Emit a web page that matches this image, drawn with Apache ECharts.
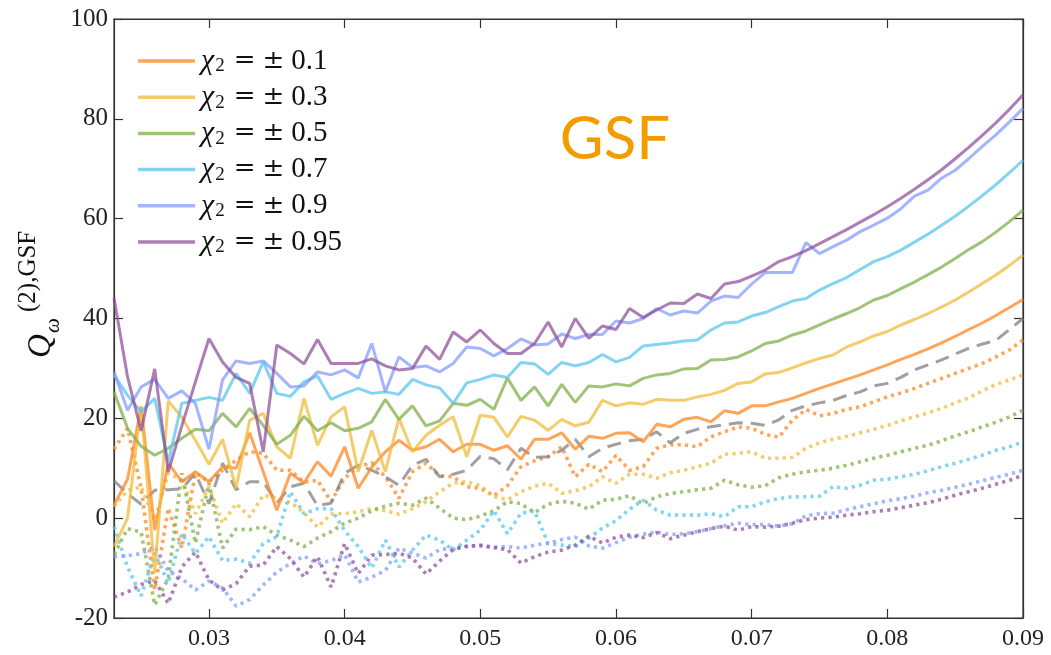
<!DOCTYPE html>
<html>
<head>
<meta charset="utf-8">
<script src="https://cdn.jsdelivr.net/npm/echarts@6/dist/echarts.min.js"></script>
<style>
  html, body { margin: 0; padding: 0; background: #fff; }
  #chart { width: 1051px; height: 655px; }
</style>
</head>
<body>
<div id="chart"></div>
<script>
// frequency grid (x axis)
const xs = [0.023,0.024,0.025,0.026,0.027,0.028,0.029,0.030,0.031,0.032,0.033,0.034,0.035,0.036,0.037,0.038,0.039,0.040,
  0.041,0.042,0.043,0.044,0.045,0.046,0.047,0.048,0.049,0.050,0.051,0.052,0.053,0.054,0.055,0.056,0.057,0.058,0.059,0.060,
  0.061,0.062,0.063,0.064,0.065,0.066,0.067,0.068,0.069,0.070,0.071,0.072,0.073,0.074,0.075,0.076,0.077,0.078,0.079,0.080,
  0.081,0.082,0.083,0.084,0.085,0.086,0.087,0.088,0.089,0.090];

// aligned spins (solid)
const pos01 = [2.6,7.8,22.4,-2.4,11,7.3,9.3,7.3,10.3,10,17.1,9.3,1.6,9,7.1,11.3,8.4,14.3,6,10.2,13.3,15.6,13.6,14.3,15.8,13.3,14.8,14.8,13.6,14.5,11.8,15.8,15.8,17.1,13.8,16.4,16,17,17.1,15.3,18.8,18.3,19.8,20.2,19.3,21.5,21,22.5,22.5,23.3,24,25,26,26.9,27.8,28.7,29.7,30.7,31.8,32.8,33.9,35.1,36.4,37.8,39.1,40.6,42.2,43.8];
const pos03 = [-5.7,0,22.4,-11,23.5,20.2,15.6,10.8,15.8,6,19.6,21,14.3,12,24,14.6,20.3,22.3,9.3,17.6,9.3,20,13.3,16.6,18.6,20.3,12.3,20.6,20.2,16.3,20.4,19.6,17.6,19.8,18.5,19.2,23.6,22.5,23.1,22.8,23.8,23.6,23.6,24.3,24.8,25.6,27,27.3,28.9,29.2,30.1,31.1,32,32.7,34.3,35.3,36.5,37.4,38.7,39.8,41,42.3,43.7,45.3,47,48.7,50.6,52.7];
const pos05 = [25.3,18,14.4,12.6,14,16,17.8,17.5,21,18.3,22,18.6,14.8,16.6,20.4,17.5,19.1,17.5,18,19.3,23.8,19.8,22.5,18.5,19.5,23,22.6,23.8,21.8,28.1,23.6,26.3,22.5,26.8,23.2,26.5,26.3,26.9,26.5,28,28.7,29,29.9,30,31.7,31.8,32.3,33.5,35,35.5,36.7,37.5,38.7,39.9,41,42.2,43.7,44.6,46,47.3,48.8,50.3,52,53.8,55.4,57.3,59.4,61.7];
const pos07 = [28.7,24.6,21.3,24,11.3,23,23.6,24.2,23.6,29,25,31.3,25,24.4,27.3,28.5,23.8,25,26,25,25.3,24.8,27.8,26.7,26.1,23,27.1,27.8,28.7,28.2,31.2,30.9,28.8,31.2,30.5,31.2,32.8,31.3,32.2,34.5,34.8,35.1,35.5,35.7,37.7,39.1,39.3,40.5,41.2,42.4,43.5,44,45.7,47,48.2,49.8,51.4,52.4,53.7,55.3,56.9,58.7,60.5,62.5,64.6,66.8,69.2,71.7];
const pos09 = [29.3,21.6,26.3,27.8,24,25.5,23,13.8,27.7,31.5,31,31.5,29,26.3,26.5,29.3,28.7,29.7,28.1,35,25.3,32.3,30.2,30.5,29.3,31,34.3,34,32.5,34,35.9,34.7,34.9,36.9,36,36.8,36.8,39.5,39.1,40,42,40.7,41.5,41.1,43.5,44.5,44.2,46.9,49.2,49.2,49.2,55.2,53,54.4,55.7,57.4,58.7,60.1,62,64.5,65.7,68.1,69.7,72,74.5,76.8,79.4,82.1];
const pos095 = [44.1,28.3,17.5,29.9,9.3,18.5,27.3,36,31.3,28.2,27,13.3,34.7,33,30.9,35.8,31,31,31,31.9,30.5,29.7,30,34.5,31.8,37.3,35.3,37.7,35,33,33,35,39.3,34.3,40,36,38.5,37.8,42,40.2,41.7,43.1,43,44.9,44,46.9,47.4,48.5,49.7,51.4,52.4,53.6,55,56.4,57.8,59.3,60.8,62.4,64.1,65.9,67.8,69.8,72,74.3,76.7,79.2,81.9,84.8];

// non-spinning reference (dashed)
const zero = [7.5,4.9,2.8,5.6,5.7,5.9,9,2.9,11,5.7,7.3,7.3,3,6.3,7,2.5,3,9,10.6,9.6,8.3,6.6,10.6,11.8,8.3,8.8,9.6,12.4,11.9,9.7,14,12.2,12.3,13.6,15.8,12.3,14,14.8,15.5,15.8,17.3,15.1,17,17.8,18.3,18.7,19.1,19,18.6,19.7,21.6,22.5,23.1,23.6,24.6,25.3,26.5,27,28.2,29.7,30.7,31.7,32.9,34,34.9,35.6,37.8,40];

// anti-aligned spins (dotted)
const neg01 = [13.8,18,6,-14.4,2,-6,9,7.3,9.6,11.6,13.3,13,9.6,9.6,7.2,7.6,3.3,8,10.3,11.1,8.3,4,9.3,11,8.5,8.3,6.3,6,4.5,6.5,10.3,11.5,12.3,14.3,8.3,10.8,9.3,12.6,9.6,10.3,14,14.7,14.7,14.3,16.3,17.3,18.3,18,16.8,16.2,19.6,21.8,20.5,21,21.8,22.3,23.3,24.3,25.1,26,27,28,29,30,31,32.3,33.7,35.7];
const neg03 = [2.3,5.6,6.3,-0.4,9,7.6,0.9,6.3,-1,2.9,0.3,4.6,4,3.2,1.1,-1.8,0.8,0.9,1.3,1.9,1.5,0.8,1.9,3.3,5.3,7,7.3,6.5,4.3,3.7,5.3,6.4,7,5,5.5,6.3,8.3,7,8.8,8.8,8,9.1,9.6,10.3,11,12.8,13,13.3,12,12,12.2,14,15.1,15.8,16.4,17.1,17.8,18.6,19.5,20.3,21.1,22,23.1,24.1,25.5,26.8,27.7,28.7];
const neg05 = [-7.3,-2.1,-2.8,-17.4,-12,9,-5,7,-6,-2.2,-2.3,-1.7,-3.4,-4.4,-5.7,-4,-2.7,-1,0,1.5,2.4,3,2.6,4,2,0,-0.3,0.4,1.5,3.3,2.9,1.1,2.8,3.4,3,1.8,3.6,3.8,4.5,2.9,4.3,4.9,5.3,5.7,6,7.6,6.7,6.2,6.5,8.1,8.8,9.3,9.6,10,10.6,11.3,12,12.6,13.3,14,14.6,15.5,16.5,17.3,18.3,19.2,20.3,21.6];
const neg07 = [-1.7,-9.8,-15.6,-7,-13,-3.1,-7.1,-3.7,-8.5,-8.2,-9,-5.1,-3.7,5.3,0.9,1.9,1.9,-2.5,-5.7,-10,-4.4,-9.8,-6.4,-3.4,-4.4,-6.4,-4.4,-2.4,1.5,-3.1,1,1.4,-5.1,-5.4,-5.7,-4,-2,-0.5,1.8,3.6,1.6,0.6,0.6,0.6,0.9,0.3,2.3,2.3,3.3,3.9,4.3,4.3,4.4,6.3,6,6.6,7.6,7.8,8.3,8.8,9.5,10.3,11,11.8,12.6,13.6,14.3,15.3];
const neg09 = [-7.7,-7.5,-7.1,-5.7,-10.6,-12.1,-14.4,-12.6,-14,-17.6,-16.3,-13.4,-10.8,-9.1,-7.6,-9.1,-8.5,-7.3,-12.8,-11.8,-10.5,-6,-7,-8,-6.3,-6,-5.7,-5.4,-5.8,-5.7,-6,-5.4,-5,-4.3,-3.8,-5.6,-6,-4.9,-3.8,-3.2,-2.8,-3.3,-3.1,-2.7,-2.1,-1.5,-1,-1.3,-1.3,-1.6,-1.1,0.5,0.9,1,1.7,2.3,2.9,3.5,3.9,4.4,5.1,5.6,6.2,6.8,7.5,8.2,8.8,9.6];
const neg095 = [-15.8,-14.8,-13.3,-12.5,-17.1,-9.8,-6.8,-12.4,-14.4,-13.1,-9.6,-9.4,-5.7,-8.1,-11.8,-7.7,-13.8,-5.1,-11.1,-7.4,-7.3,-7,-8,-11.2,-8.6,-6.3,-5.6,-5.5,-5.9,-6.3,-9,-7.7,-6.8,-6.4,-5.4,-3.6,-5,-3.8,-3.4,-3.9,-2.9,-4.1,-3.4,-2.7,-2.1,-1.6,-2.4,-1.7,-1.8,-1.6,-1,-0.3,0,0.2,0.6,0.9,1.3,1.6,2.1,2.6,3.1,3.8,4.6,5.3,6,6.8,7.6,8.6];

const spinLabels = ['0.1', '0.3', '0.5', '0.7', '0.9', '0.95'];
const spinColors = ['rgba(255,140,42,0.78)', 'rgba(242,187,58,0.75)', 'rgba(128,176,74,0.75)',
                    'rgba(90,198,239,0.75)', 'rgba(127,152,255,0.72)', 'rgba(140,76,152,0.72)'];
const posSets = [pos01, pos03, pos05, pos07, pos09, pos095];
const negSets = [neg01, neg03, neg05, neg07, neg09, neg095];
const xTicks = [0.03, 0.04, 0.05, 0.06, 0.07, 0.08, 0.09];

const pairs = ys => xs.map((x, i) => [x, ys[i]]);
const legendName = s => '{c|χ}{s|2} {e|=} {e|±} {t|' + s + '}';

const series = [];
negSets.forEach((ys, k) => series.push({
  name: 'neg ' + spinLabels[k], type: 'line', data: pairs(ys), symbol: 'none', z: 2,
  lineStyle: { color: spinColors[k], width: 3.6, type: [3.2, 4.2], cap: 'butt' }
}));
series.push({
  name: 'zero', type: 'line', data: pairs(zero), symbol: 'none', z: 3,
  lineStyle: { color: 'rgba(128,128,128,0.75)', width: 3, type: [14, 8] }
});
posSets.forEach((ys, k) => series.push({
  name: legendName(spinLabels[k]), type: 'line', data: pairs(ys), symbol: 'none', z: 4,
  itemStyle: { color: spinColors[k] },
  lineStyle: { color: spinColors[k], width: 3 }
}));

const serif = '"Liberation Serif", "DejaVu Serif", serif';
const tickStyle = { show: true, inside: true, length: 9, lineStyle: { color: '#333', width: 1.2 } };

const chart = echarts.init(document.getElementById('chart'));
chart.setOption({
  animation: false,
  backgroundColor: '#fff',
  grid: { left: 114, right: 28, top: 19, bottom: 37, show: true, borderColor: '#333', borderWidth: 1.2 },
  legend: {
    data: spinLabels.map(legendName),
    orient: 'vertical', left: 133, top: 41,
    itemWidth: 57, itemHeight: 3.5, itemGap: 6.2,
    icon: 'rect',
    itemStyle: { borderWidth: 0 },
    textStyle: {
      color: '#111', fontFamily: serif, fontSize: 28, lineHeight: 29, padding: [0, 0, 0, 1],
      rich: {
        c: { fontFamily: serif, fontStyle: 'italic', fontSize: 30, color: '#111', lineHeight: 29 },
        s: { fontFamily: serif, fontSize: 19, color: '#111', lineHeight: 29, padding: [11, 2, 0, 1] },
        e: { fontFamily: '"DejaVu Serif", serif', fontSize: 26, color: '#111', lineHeight: 29 },
        t: { fontFamily: serif, fontSize: 29, color: '#111', lineHeight: 29 }
      }
    }
  },
  xAxis: [{
    type: 'value', min: 0.023, max: 0.09, position: 'bottom',
    axisLine: { show: true, onZero: false, lineStyle: { color: '#333', width: 1.2 } },
    axisTick: Object.assign({ customValues: xTicks }, tickStyle),
    axisLabel: { customValues: xTicks, formatter: v => v.toFixed(2), color: '#222',
                 fontFamily: serif, fontSize: 24, margin: 9 },
    splitLine: { show: false }
  }, {
    type: 'value', min: 0.023, max: 0.09, position: 'top',
    axisLine: { show: true, onZero: false, lineStyle: { color: '#333', width: 1.2 } },
    axisTick: Object.assign({ customValues: xTicks }, tickStyle),
    axisLabel: { show: false }, splitLine: { show: false }
  }],
  yAxis: [{
    type: 'value', min: -20, max: 100, interval: 20, position: 'left',
    axisLine: { show: true, onZero: false, lineStyle: { color: '#333', width: 1.2 } },
    axisTick: tickStyle,
    axisLabel: { color: '#222', fontFamily: serif, fontSize: 25, margin: 6,
                 formatter: v => String(v) },
    splitLine: { show: false }
  }, {
    type: 'value', min: -20, max: 100, interval: 20, position: 'right',
    axisLine: { show: true, onZero: false, lineStyle: { color: '#333', width: 1.2 } },
    axisTick: tickStyle, axisLabel: { show: false }, splitLine: { show: false }
  }],
  series: series,
  graphic: [
    { type: 'text', x: 615, y: 140, style: { text: 'GSF', fill: '#f29c00', font: '60px Lato, "Open Sans", sans-serif',
      align: 'center', verticalAlign: 'middle' } },
    // y-axis title Q_ω^{(2),GSF}, read bottom to top
    { type: 'text', x: 41, y: 358, rotation: Math.PI / 2,
      style: { text: 'Q', fill: '#111', font: 'italic 33px ' + serif, align: 'left', verticalAlign: 'middle' } },
    { type: 'text', x: 53, y: 333, rotation: Math.PI / 2,
      style: { text: 'ω', fill: '#111', font: 'italic 21px ' + serif, align: 'left', verticalAlign: 'middle' } },
    { type: 'text', x: 28, y: 312, rotation: Math.PI / 2,
      style: { text: '(2),GSF', fill: '#111', font: '25px ' + serif, align: 'left', verticalAlign: 'middle' } }
  ]
});
</script>
</body>
</html>
